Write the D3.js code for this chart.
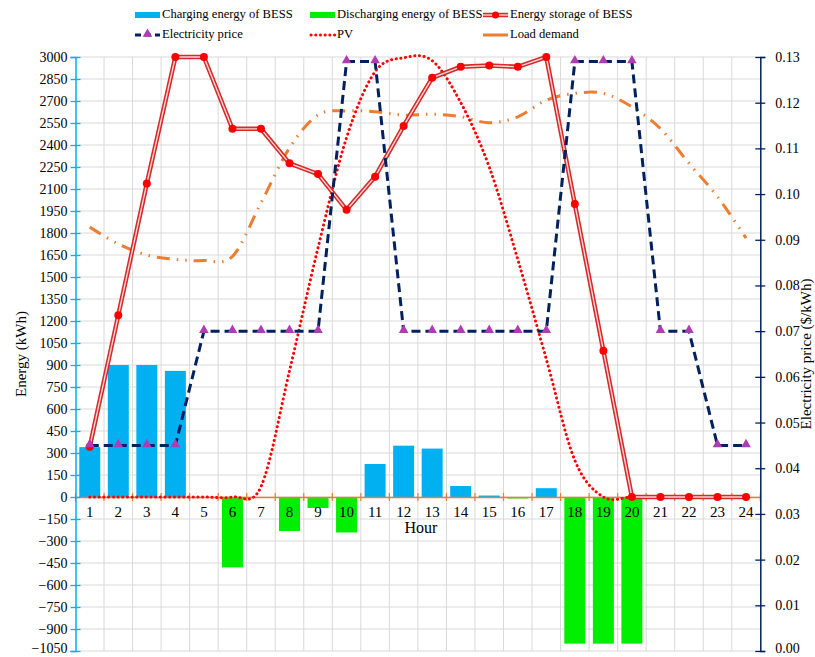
<!DOCTYPE html>
<html><head><meta charset="utf-8">
<script src="https://cdn.jsdelivr.net/npm/d3@7"></script>
<style>body{margin:0;background:#fff} svg{display:block;font-family:"Liberation Serif","Times New Roman",serif}</style>
</head><body><svg id="c" width="815" height="657"></svg>
<script>
const hours = [1,2,3,4,5,6,7,8,9,10,11,12,13,14,15,16,17,18,19,20,21,22,23,24];
const charging = [340,900,900,860,0,0,0,0,0,0,225,350,330,75,10,0,60,0,0,0,0,0,0,0];
const discharging = [0,0,0,0,0,-480,0,-232,-75,-242,0,0,0,0,0,-10,0,-1000,-1000,-1000,0,0,0,0];
const storage = [343,1240,2138,3000,3000,2510,2510,2275,2202,1958,2184,2530,2858,2933,2942,2933,3000,1997,998,0,0,0,0,0];
const price = [0.045,0.045,0.045,0.045,0.07,0.07,0.07,0.07,0.07,0.129,0.129,0.07,0.07,0.07,0.07,0.07,0.07,0.129,0.129,0.129,0.07,0.07,0.045,0.045];
const pv = [0,0,0,0,0,0,70,860,1700,2450,2900,2995,2975,2690,2250,1620,940,250,0,0,0,0,0,0];
const load = [1840,1725,1650,1620,1612,1640,2005,2380,2605,2633,2627,2604,2610,2593,2552,2592,2706,2752,2752,2660,2512,2275,2047,1765];
const leftTicks = [-1050,-900,-750,-600,-450,-300,-150,0,150,300,450,600,750,900,1050,1200,1350,1500,1650,1800,1950,2100,2250,2400,2550,2700,2850,3000];
const rightTicks = [0,0.01,0.02,0.03,0.04,0.05,0.06,0.07,0.08,0.09,0.10,0.11,0.12,0.13];
const legendItems = ["Charging energy of BESS","Discharging energy of BESS","Energy storage of BESS","Electricity price","PV","Load demand"];

const svg = d3.select("#c");
const L = 75.5, R = 760.3, T = 57, B = 651;
const x = d3.scaleBand().domain(hours).range([L, R]);
const xc = h => x(h) + x.bandwidth()/2;
const yL = d3.scaleLinear().domain([-1050, 3000]).range([B, T]);
const yR = d3.scaleLinear().domain([0, 0.13]).range([B, T]);

const C = {blue:"#00b0f0", green:"#00ee00", red:"#ff0000", navy:"#002060", purple:"#b03cb4", orange:"#ed7d31", grid:"#d9d9d9"};

// gridlines
const g = svg.append("g");
g.selectAll("line.h").data(leftTicks).join("line")
  .attr("x1", L).attr("x2", R).attr("y1", d => yL(d)).attr("y2", d => yL(d))
  .attr("stroke", C.grid).attr("stroke-width", 1);
g.selectAll("line.v").data(hours.slice(1)).join("line")
  .attr("x1", d => x(d)).attr("x2", d => x(d)).attr("y1", T).attr("y2", B)
  .attr("stroke", C.grid).attr("stroke-width", 1);

// bars
const bw = 21;
svg.append("g").selectAll("rect").data(hours.map((h,i)=>({h, v:charging[i]})).filter(d=>d.v!==0)).join("rect")
  .attr("x", d => xc(d.h) - bw/2).attr("width", bw)
  .attr("y", d => yL(d.v)).attr("height", d => yL(0) - yL(d.v)).attr("fill", C.blue);
svg.append("g").selectAll("rect").data(hours.map((h,i)=>({h, v:discharging[i]})).filter(d=>d.v!==0)).join("rect")
  .attr("x", d => xc(d.h) - bw/2).attr("width", bw)
  .attr("y", yL(0)).attr("height", d => yL(d.v) - yL(0)).attr("fill", C.green);

// x axis (orange) at zero
const xAxis = d3.axisBottom(x).tickSize(0).tickPadding(9);
const xg = svg.append("g").attr("transform", `translate(0,${yL(0)})`).call(xAxis);
xg.select(".domain").attr("stroke", C.orange).attr("stroke-width", 1.5);
xg.selectAll("text").attr("font-size", 15).attr("font-family", "Liberation Serif").attr("fill", "#000");
svg.append("g").selectAll("line").data(hours.concat([null])).join("line")
  .attr("x1", d => d===null ? R : x(d)).attr("x2", d => d===null ? R : x(d))
  .attr("y1", yL(0)-4).attr("y2", yL(0)+4).attr("stroke", C.orange).attr("stroke-width", 1.2);

// left axis
const la = svg.append("g").attr("transform", `translate(${L},0)`)
  .call(d3.axisLeft(yL).tickValues(leftTicks).tickSize(5).tickPadding(3).tickFormat(d3.format("d")));
la.select(".domain").attr("stroke", C.blue).attr("stroke-width", 1.5);
la.selectAll(".tick line").attr("x1", -5).attr("x2", 5).attr("stroke", C.blue).attr("stroke-width", 1.3);
la.selectAll("text").attr("font-size", 14).attr("font-family", "Liberation Serif").attr("fill", "#000");

// right axis
const ra = svg.append("g").attr("transform", `translate(${R},0)`)
  .call(d3.axisRight(yR).tickValues(rightTicks).tickSize(5).tickPadding(10).tickFormat(d3.format(".2f")));
ra.select(".domain").attr("stroke", C.navy).attr("stroke-width", 1.5);
ra.selectAll(".tick line").attr("x1", -5).attr("x2", 5).attr("stroke", C.navy).attr("stroke-width", 1.3);
ra.selectAll("text").attr("font-size", 14).attr("font-family", "Liberation Serif").attr("fill", "#000");
// keep the bottom labels inside the picture
la.selectAll(".tick text").filter(d => d === -1050).attr("dy", "0.1em");
ra.selectAll(".tick text").filter(d => d === 0).attr("dy", "0.1em");

// load demand
const curve = d3.curveCardinal.tension(0);
svg.append("path").datum(load).attr("fill","none").attr("stroke", C.orange).attr("stroke-width", 3)
  .attr("stroke-dasharray", "13,7,1.5,7,1.5,7")
  .attr("d", d3.line().x((d,i)=>xc(hours[i])).y(d=>yL(d)).curve(curve));

// PV
svg.append("path").datum(pv).attr("fill","none").attr("stroke", C.red).attr("stroke-width", 3)
  .attr("stroke-linecap","round").attr("stroke-dasharray", "0.1,4.6")
  .attr("d", d3.line().x((d,i)=>xc(hours[i])).y(d=>yL(d)).curve(curve));

// energy storage (double line)
const sLine = d3.line().x((d,i)=>xc(hours[i])).y(d=>yL(d));
svg.append("path").datum(storage).attr("fill","none").attr("stroke", "#d42a2a").attr("stroke-width", 4.5).attr("d", sLine);
svg.append("path").datum(storage).attr("fill","none").attr("stroke", "#f6d6d6").attr("stroke-width", 1.4).attr("d", sLine);
svg.append("g").selectAll("circle").data(storage).join("circle")
  .attr("cx", (d,i)=>xc(hours[i])).attr("cy", d=>yL(d)).attr("r", 4).attr("fill", C.red);

// electricity price
svg.append("path").datum(price).attr("fill","none").attr("stroke", C.navy).attr("stroke-width", 3)
  .attr("stroke-dasharray", "9,5")
  .attr("d", d3.line().x((d,i)=>xc(hours[i])).y(d=>yR(d)));
const tri = d3.symbol().type(d3.symbolTriangle).size(40);
svg.append("g").selectAll("path").data(price).join("path")
  .attr("transform", (d,i)=>`translate(${xc(hours[i])},${yR(d)-1})`).attr("d", tri).attr("fill", C.purple);

// axis titles
svg.append("text").attr("transform", `translate(23,${(T+B)/2}) rotate(-90)`).attr("text-anchor","middle")
  .attr("font-size", 15).attr("dominant-baseline","middle").text("Energy (kWh)");
svg.append("text").attr("transform", `translate(808,${(T+B)/2}) rotate(-90)`).attr("text-anchor","middle")
  .attr("font-size", 15).attr("dominant-baseline","middle").text("Electricity price ($/kWh)");
svg.append("text").attr("x", 421).attr("y", 533).attr("text-anchor","middle").attr("font-size", 16).text("Hour");

// legend
const lg = svg.append("g").attr("font-size", 12.6);
const pos = [[135,15],[310,15],[483,15],[135,35],[310,35],[483,35]];
legendItems.forEach((name,i)=>{
  const [lx, ly] = pos[i];
  const it = lg.append("g");
  if (i===0 || i===1) {
    it.append("rect").attr("x", lx).attr("y", ly-3).attr("width", 25).attr("height", 6).attr("fill", i===0?C.blue:C.green);
  } else if (i===2) {
    it.append("line").attr("x1",lx).attr("x2",lx+25).attr("y1",ly).attr("y2",ly).attr("stroke","#d42a2a").attr("stroke-width",4.5);
    it.append("line").attr("x1",lx).attr("x2",lx+25).attr("y1",ly).attr("y2",ly).attr("stroke","#f6d6d6").attr("stroke-width",1.4);
    it.append("circle").attr("cx",lx+12.5).attr("cy",ly).attr("r",3.5).attr("fill",C.red);
  } else if (i===3) {
    it.append("line").attr("x1",lx).attr("x2",lx+25).attr("y1",ly).attr("y2",ly).attr("stroke",C.navy).attr("stroke-width",3).attr("stroke-dasharray","6,4");
    it.append("path").attr("transform",`translate(${lx+12.5},${ly-1})`).attr("d", tri).attr("fill", C.purple);
  } else if (i===4) {
    it.append("line").attr("x1",lx+1).attr("x2",lx+25).attr("y1",ly).attr("y2",ly).attr("stroke",C.red).attr("stroke-width",3).attr("stroke-linecap","round").attr("stroke-dasharray","0.1,4.6");
  } else {
    it.append("line").attr("x1",lx).attr("x2",lx+25).attr("y1",ly).attr("y2",ly).attr("stroke",C.orange).attr("stroke-width",3);
  }
  it.append("text").attr("x", lx+27).attr("y", ly).attr("dominant-baseline","middle").text(name);
});
</script></body></html>
